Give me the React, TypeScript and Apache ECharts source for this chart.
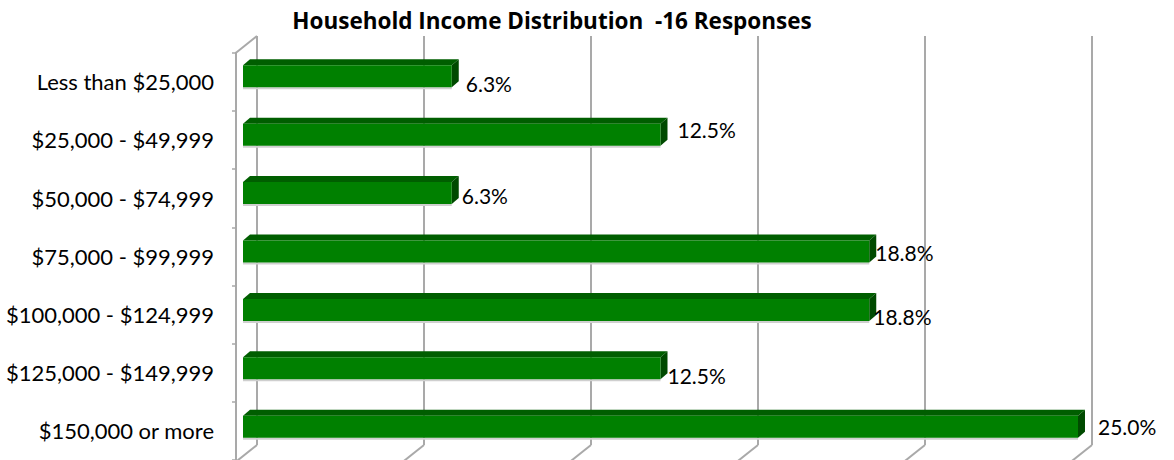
import React, { useEffect, useRef } from "react";
import * as echarts from "echarts";

const titleText = "Household Income Distribution  -16 Responses";
const categories = [
  "Less than $25,000",
  "$25,000 - $49,999",
  "$50,000 - $74,999",
  "$75,000 - $99,999",
  "$100,000 - $124,999",
  "$125,000 - $149,999",
  "$150,000 or more",
];
const percentValues = [6.25, 12.5, 6.25, 18.75, 18.75, 12.5, 25.0];
const xTicks = [0, 5, 10, 15, 20, 25];

// style: nudges of the value labels relative to the bar end (px)
const labelNudge = [
  [14, 7],
  [17, -5],
  [10, 2],
  [6, 1],
  [4, 7],
  [7, 7],
  [20, 0],
];

const FONT = "Lato, 'Liberation Sans', sans-serif";
const TITLE_FONT = "'Open Sans', Lato, sans-serif";
const WALL_DX = -21;
const WALL_DY = 16.7;
const BAR_DX = -14;
const BAR_DY = 11;
const BAR_H = 22;
const BAR_DEPTH_X = 7;
const BAR_DEPTH_Y = 6;
const GRID_COLOR = "#a9a9a9";

export default function App() {
  const ref = useRef<HTMLDivElement>(null);
  useEffect(() => {
    document.body.style.margin = "0";
    const chart = echarts.init(ref.current!, null, { renderer: "svg" });
    const n = categories.length;
    const option: any = {
      animation: false,
      backgroundColor: "#ffffff",
      title: {
        text: titleText,
        left: 547,
        textAlign: "center",
        top: 4,
        textStyle: { fontFamily: TITLE_FONT, fontWeight: "bold", fontSize: 22.5, color: "#000" },
      },
      grid: [
        { left: 257, right: 82, top: 36, bottom: 15 },
        { left: 236, right: 103, top: 52.7, bottom: -2 },
      ],
      xAxis: [
        {
          gridIndex: 0,
          type: "value",
          min: 0,
          max: 25,
          interval: 5,
          axisLabel: { show: false },
          axisLine: { show: false },
          axisTick: { show: false },
          splitLine: { show: true, lineStyle: { color: GRID_COLOR, width: 2 } },
        },
        { gridIndex: 1, type: "value", min: 0, max: 25, show: false },
      ],
      yAxis: [
        { gridIndex: 0, type: "category", data: categories, inverse: true, show: false },
        {
          gridIndex: 1,
          type: "category",
          data: categories,
          inverse: true,
          axisLine: { show: true, lineStyle: { color: GRID_COLOR, width: 2 } },
          axisTick: { show: true, length: 4, lineStyle: { color: GRID_COLOR, width: 1.5 } },
          axisLabel: { margin: 22, fontSize: 22, color: "#000", fontFamily: FONT },
          splitLine: { show: false },
        },
      ],
      series: [
        {
          type: "custom",
          xAxisIndex: 0,
          yAxisIndex: 0,
          silent: true,
          data: xTicks.map((v) => [v, 0]),
          renderItem: (params: any, api: any) => {
            const v = api.value(0);
            const band = api.size([0, 1])[1];
            const pTop = api.coord([v, 0]);
            const pBot = api.coord([v, n - 1]);
            const x = pTop[0];
            const yTop = pTop[1] - band / 2;
            const yBot = pBot[1] + band / 2;
            const children: any[] = [
              {
                type: "line",
                shape: { x1: x, y1: yBot, x2: x + WALL_DX, y2: yBot + WALL_DY },
                style: { stroke: GRID_COLOR, lineWidth: 2 },
              },
            ];
            if (v === 0) {
              children.push({
                type: "line",
                shape: { x1: x, y1: yTop, x2: x + WALL_DX, y2: yTop + WALL_DY },
                style: { stroke: GRID_COLOR, lineWidth: 2 },
              });
            }
            return { type: "group", children };
          },
        },
        {
          type: "custom",
          xAxisIndex: 0,
          yAxisIndex: 0,
          silent: true,
          data: percentValues.map((v, i) => [v, i]),
          renderItem: (params: any, api: any) => {
            const v = api.value(0);
            const i = params.dataIndex;
            const p0 = api.coord([0, i]);
            const p1 = api.coord([v, i]);
            const x0 = p0[0] + BAR_DX;
            const x1 = p1[0] + BAR_DX;
            const yc = p0[1] + BAR_DY;
            const yt = yc - BAR_H / 2;
            const yb = yc + BAR_H / 2;
            const nd = labelNudge[i] || [10, 0];
            return {
              type: "group",
              children: [
                {
                  type: "line",
                  shape: { x1: x0, y1: yb + 1, x2: x1, y2: yb + 1 },
                  style: { stroke: "#cfcfcf", lineWidth: 2 },
                },
                {
                  type: "polygon",
                  shape: {
                    points: [
                      [x0, yt],
                      [x0 + BAR_DEPTH_X, yt - BAR_DEPTH_Y],
                      [x1 + BAR_DEPTH_X, yt - BAR_DEPTH_Y],
                      [x1, yt],
                    ],
                  },
                  style: { fill: "#005e00" },
                },
                {
                  type: "polygon",
                  shape: {
                    points: [
                      [x1, yt],
                      [x1 + BAR_DEPTH_X, yt - BAR_DEPTH_Y],
                      [x1 + BAR_DEPTH_X, yb - BAR_DEPTH_Y],
                      [x1, yb],
                    ],
                  },
                  style: { fill: "#004a00" },
                },
                {
                  type: "rect",
                  shape: { x: x0, y: yt, width: x1 - x0, height: BAR_H },
                  style: { fill: "#008000" },
                },
                {
                  type: "text",
                  style: {
                    text: v.toFixed(1) + "%",
                    x: x1 + nd[0],
                    y: yc + nd[1],
                    align: "left",
                    verticalAlign: "middle",
                    fontSize: 21,
                    fontFamily: FONT,
                    fill: "#000",
                  },
                },
              ],
            };
          },
        },
      ],
    };
    chart.setOption(option);
    return () => chart.dispose();
  }, []);
  return <div ref={ref} style={{ width: 1174, height: 460 }} />;
}
